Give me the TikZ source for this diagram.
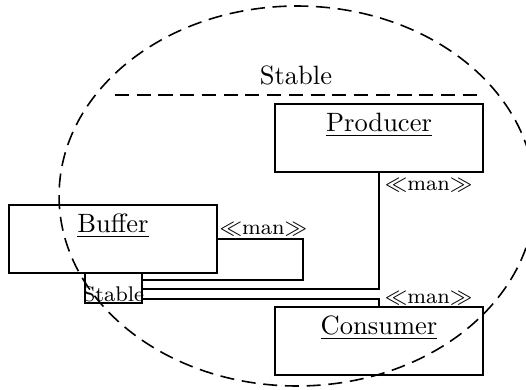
\documentclass[tikz,border=0pt]{standalone}
\usetikzlibrary{calc}
\begin{document}
\begin{tikzpicture}[x=0.3774pt,y=-0.3774pt, line width=0.6pt,
  box/.style={draw, rectangle, minimum width=78.5pt, minimum height=25.66pt, inner sep=0pt},
  ttl/.style={anchor=base, inner sep=0pt, yshift=-10.6pt},
  dashline/.style={dash pattern=on 5.3pt off 2.9pt},
  man/.style={font=\footnotesize, inner sep=0pt}]
\path[use as bounding box] (0,0) rectangle (526,389);
\clip (0,0) rectangle (526,389);
% region
\draw[dashline] (297,196) ellipse [x radius=89.8pt, y radius=71.7pt];
\coordinate (sl) at (115,95);
\coordinate (sr) at (477,95);
\draw[dashline] (sl) -- (sr) node[midway, above, inner sep=3.6pt] (stl) {Stable};
% boxes
\node[box, label={[ttl]north:\underline{Producer}}] (producer) at (379,138) {};
\node[box, label={[ttl]north:\underline{Buffer}}] (buffer) at (113,239) {};
\node[box, label={[ttl]north:\underline{Consumer}}] (consumer) at (379,341) {};
\node[draw, rectangle, minimum width=21.5pt, minimum height=11.3pt, inner sep=0pt,
  label={[anchor=base, font=\footnotesize, inner sep=0pt, yshift=0.75pt]south:Stable}] (stbox) at (113.5,288) {};
% connectors
\coordinate (k1) at (303,280);
\draw (buffer.east) -| (k1) -- (k1 -| stbox.east);
\node[man, anchor=base west] (m1) at ($(buffer.east)+(1,-5)$) {$\ll$man$\gg$};
\draw (producer.south) |- ($(stbox.east)+(0,1)$);
\node[man, anchor=base west] (m2) at ($(producer.south)+(5,18)$) {$\ll$man$\gg$};
\draw ($(stbox.east)+(0,11)$) -| (consumer.north);
\node[man, anchor=base west] (m3) at ($(consumer.north)+(5,-3)$) {$\ll$man$\gg$};
\end{tikzpicture}
\end{document}
